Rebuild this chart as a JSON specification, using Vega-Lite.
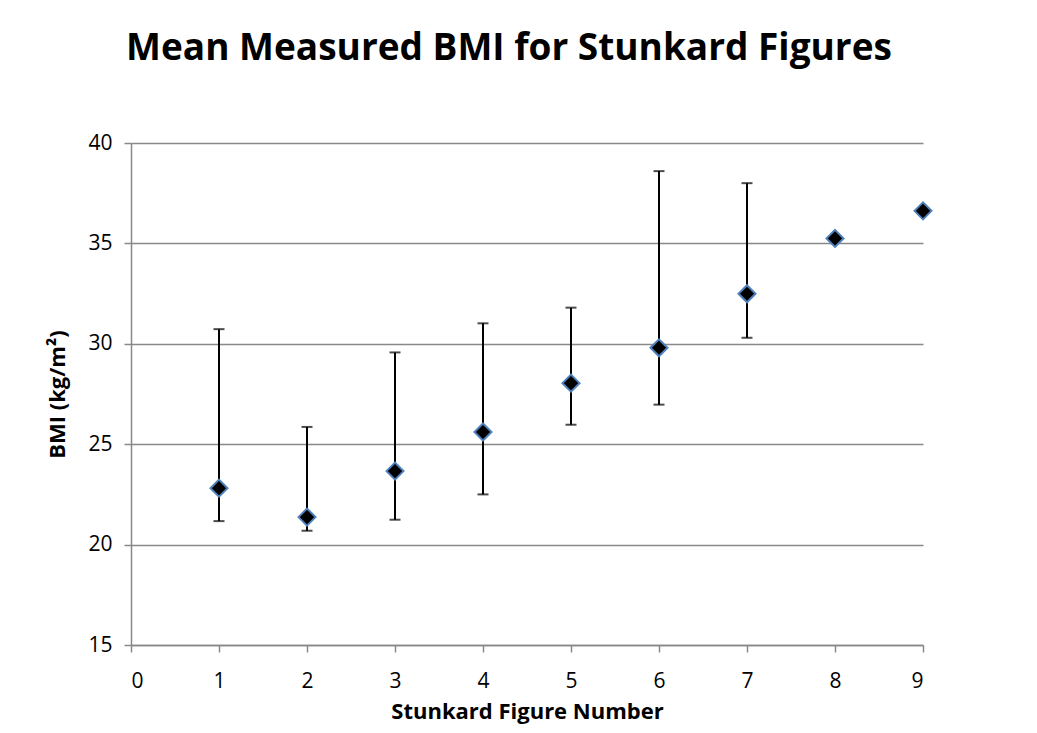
{
  "$schema": "https://vega.github.io/schema/vega-lite/v6.json",
  "width": 792,
  "height": 502,
  "autosize": {"type": "none"},
  "padding": {"left": 131, "top": 143, "right": 114, "bottom": 88},
  "background": "white",
  "title": {
    "text": "Mean Measured BMI for Stunkard Figures",
    "font": "Open Sans",
    "fontSize": 37,
    "fontWeight": "bold",
    "color": "black",
    "anchor": "middle",
    "dx": -18,
    "offset": 64
  },
  "config": {
    "view": {"stroke": null},
    "font": "Open Sans",
    "axis": {
      "labelFont": "Open Sans",
      "titleFont": "Open Sans",
      "labelFontSize": 21,
      "titleFontSize": 22,
      "labelColor": "black",
      "titleColor": "black",
      "titleFontWeight": "bold",
      "domainColor": "#898989",
      "tickColor": "#898989",
      "gridColor": "#898989",
      "domainWidth": 1.5,
      "tickWidth": 1.5,
      "gridWidth": 1.5,
      "tickSize": 7
    }
  },
  "data": {
    "values": [
      {"figure": 1, "bmi": 22.81, "lo": 21.17, "hi": 30.73},
      {"figure": 2, "bmi": 21.37, "lo": 20.69, "hi": 25.86},
      {"figure": 3, "bmi": 23.66, "lo": 21.24, "hi": 29.57},
      {"figure": 4, "bmi": 25.61, "lo": 22.5, "hi": 31.02},
      {"figure": 5, "bmi": 28.04, "lo": 25.97, "hi": 31.8},
      {"figure": 6, "bmi": 29.8, "lo": 26.97, "hi": 38.6},
      {"figure": 7, "bmi": 32.49, "lo": 30.3, "hi": 38.0},
      {"figure": 8, "bmi": 35.25, "lo": null, "hi": null},
      {"figure": 9, "bmi": 36.62, "lo": null, "hi": null}
    ]
  },
  "encoding": {
    "x": {
      "field": "figure",
      "type": "quantitative",
      "scale": {"domain": [0, 9], "nice": false, "zero": false},
      "axis": {
        "title": "Stunkard Figure Number",
        "values": [0, 1, 2, 3, 4, 5, 6, 7, 8, 9],
        "grid": false,
        "labelPadding": 18,
        "titlePadding": 10
      }
    }
  },
  "layer": [
    {
      "transform": [{"filter": "datum.lo != null"}],
      "mark": {"type": "rule", "color": "black", "strokeWidth": 2},
      "encoding": {
        "y": {"field": "lo", "type": "quantitative", "scale": {"domain": [15, 40], "nice": false, "zero": false},
          "axis": {
            "title": "BMI (kg/m²)",
            "values": [15, 20, 25, 30, 35, 40],
            "grid": true,
            "labelPadding": 12,
            "titlePadding": 18
          }},
        "y2": {"field": "hi"}
      }
    },
    {
      "transform": [{"filter": "datum.lo != null"}],
      "mark": {"type": "tick", "color": "black", "orient": "horizontal", "size": 11, "thickness": 2},
      "encoding": {"y": {"field": "lo", "type": "quantitative"}}
    },
    {
      "transform": [{"filter": "datum.hi != null"}],
      "mark": {"type": "tick", "color": "black", "orient": "horizontal", "size": 11, "thickness": 2},
      "encoding": {"y": {"field": "hi", "type": "quantitative"}}
    },
    {
      "mark": {"type": "point", "shape": "diamond", "filled": true, "fill": "black", "stroke": "#4f81bd", "strokeWidth": 2, "size": 290, "opacity": 1},
      "encoding": {"y": {"field": "bmi", "type": "quantitative"}}
    }
  ]
}
